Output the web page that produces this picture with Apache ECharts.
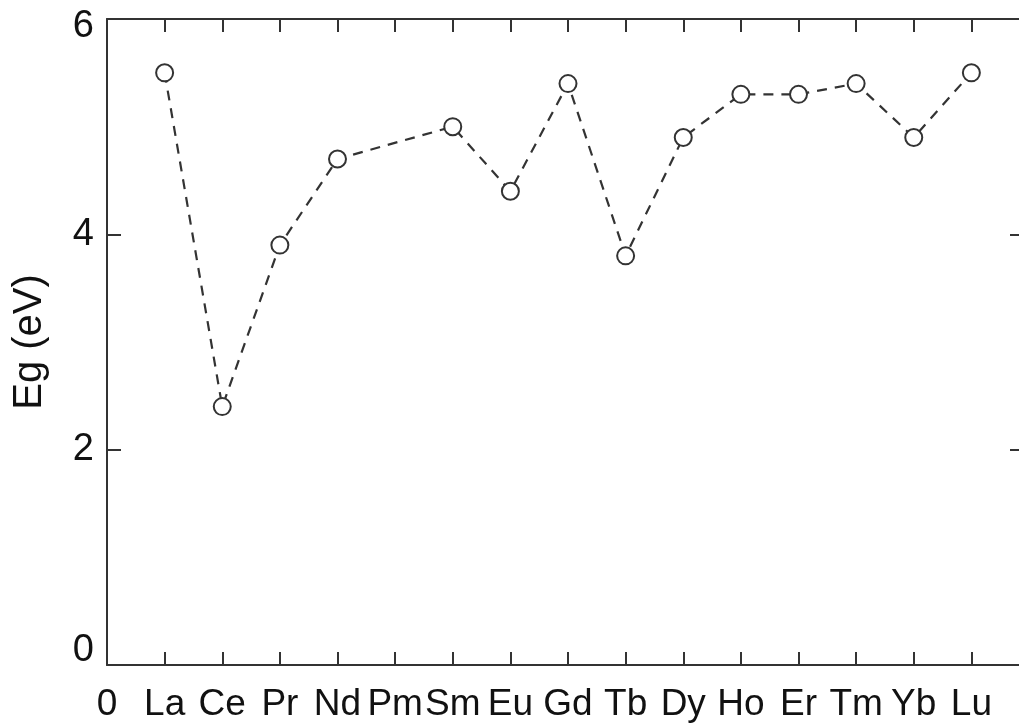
<!DOCTYPE html>
<html>
<head>
<meta charset="utf-8">
<script src="https://cdn.jsdelivr.net/npm/echarts@6/dist/echarts.min.js"></script>
<style>html,body{margin:0;padding:0;background:#fff;overflow:hidden;width:1019px;height:723px;}#c{width:1040px;height:723px;}</style>
</head>
<body>
<div id="c"></div>
<script>
const elements = ['La','Ce','Pr','Nd','Pm','Sm','Eu','Gd','Tb','Dy','Ho','Er','Tm','Yb','Lu'];
const egValues = [5.5, 2.4, 3.9, 4.7, null, 5.0, 4.4, 5.4, 3.8, 4.9, 5.3, 5.3, 5.4, 4.9, 5.5];
const yTicks = [0, 2, 4, 6];

const seriesData = elements.map((el, i) => [i + 1, egValues[i]]).filter(d => d[1] !== null);

const FONT = '"Liberation Sans", Arial, sans-serif';
const INK = '#111';
const AXIS = '#333';

const chart = echarts.init(document.getElementById('c'), null, {renderer: 'canvas'});
chart.setOption({
  backgroundColor: '#fff',
  animation: false,
  grid: {left: 107, top: 19, right: 11, bottom: 56, containLabel: false},
  xAxis: [{
    type: 'value', min: 0, max: 16, interval: 1, position: 'bottom',
    axisLine: {show: true, onZero: false, lineStyle: {color: AXIS, width: 2}},
    axisTick: {show: true, inside: true, length: 13, lineStyle: {color: AXIS, width: 2}},
    axisLabel: {
      show: true, margin: 21, fontFamily: FONT, fontSize: 37, color: INK,
      formatter: v => v === 0 ? '0' : (elements[v - 1] || '')
    },
    splitLine: {show: false}
  }, {
    type: 'value', min: 0, max: 16, interval: 1, position: 'top',
    axisLine: {show: true, onZero: false, lineStyle: {color: AXIS, width: 2}},
    axisTick: {show: true, inside: true, length: 13, lineStyle: {color: AXIS, width: 2}},
    axisLabel: {show: false},
    splitLine: {show: false}
  }],
  yAxis: [{
    type: 'value', min: yTicks[0], max: yTicks[yTicks.length - 1], interval: 2, position: 'left',
    name: 'Eg (eV)', nameLocation: 'middle', nameGap: 57,
    nameTextStyle: {fontFamily: FONT, fontSize: 40, color: INK},
    axisLine: {show: true, onZero: false, lineStyle: {color: AXIS, width: 2}},
    axisTick: {show: true, inside: true, length: 14, lineStyle: {color: AXIS, width: 2}},
    axisLabel: {show: true, margin: 13, fontFamily: FONT, fontSize: 38, color: INK,
      formatter: v => v === yTicks[yTicks.length - 1] ? '{t|' + v + '}' : (v === yTicks[0] ? '{b|' + v + '}' : String(v)),
      rich: {
        t: {fontFamily: FONT, fontSize: 38, color: INK, padding: [16, 0, 0, 0]},
        b: {fontFamily: FONT, fontSize: 38, color: INK, padding: [0, 0, 28, 0]}
      }
    },
    splitLine: {show: false}
  }, {
    type: 'value', min: yTicks[0], max: yTicks[yTicks.length - 1], interval: 2, position: 'right',
    axisLine: {show: true, onZero: false, lineStyle: {color: AXIS, width: 2}},
    axisTick: {show: true, inside: true, length: 19, lineStyle: {color: AXIS, width: 2}},
    axisLabel: {show: false},
    splitLine: {show: false}
  }],
  series: [{
    type: 'line',
    data: seriesData,
    xAxisIndex: 0, yAxisIndex: 0,
    symbol: 'emptyCircle', symbolSize: 17,
    color: AXIS,
    itemStyle: {color: AXIS, borderColor: AXIS, borderWidth: 2},
    lineStyle: {color: AXIS, width: 2.2, type: [10, 8]},
    z: 3
  }]
});
</script>
</body>
</html>
